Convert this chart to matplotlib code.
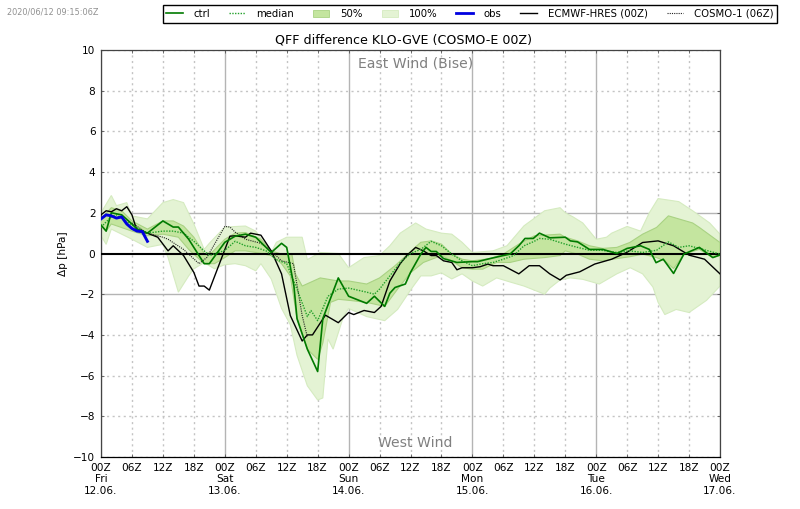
import matplotlib
matplotlib.use("Agg")
import numpy as np
import matplotlib.pyplot as plt
from matplotlib.patches import Patch
from matplotlib.lines import Line2D

# forecast hours and values
ctrl_h = [0, 1, 2, 4, 6, 7, 9, 12, 14, 15, 17, 20, 21, 24, 26, 28, 30, 33, 35, 36, 37.4, 38, 40, 42, 43, 46, 48, 50, 51.5, 53, 55, 56, 57, 59, 60, 62, 63, 64, 65, 66.4, 69, 72, 73, 75.4, 78, 79.3, 81, 82.2, 83.8, 85, 87, 90, 91, 92.4, 94.7, 97.3, 100, 102, 104.6, 106.3, 107.6, 109, 111, 113, 116, 118.6, 120]
ctrl = [1.4, 1.1, 2.0, 1.9, 1.45, 1.2, 1.0, 1.6, 1.3, 1.3, 0.7, -0.5, -0.5, 0.55, 0.85, 0.95, 0.8, 0.05, 0.5, 0.3, -1.6, -3.2, -4.7, -5.8, -3.2, -1.2, -2.1, -2.3, -2.45, -2.1, -2.6, -1.95, -1.67, -1.5, -0.93, -0.03, 0.3, 0.1, 0.1, -0.25, -0.44, -0.4, -0.4, -0.25, -0.1, -0.03, 0.38, 0.74, 0.74, 1.0, 0.77, 0.8, 0.62, 0.57, 0.2, 0.2, 0.0, 0.25, 0.38, 0.2, -0.45, -0.28, -0.98, -0.03, 0.3, -0.2, -0.07]

median_h = [0, 2, 3, 6, 9, 12, 14, 16, 18, 21, 24, 26, 28, 30, 32, 34, 36, 38, 40, 40.7, 42, 44, 46, 48, 51.5, 53, 54, 56, 58, 60, 62, 64, 66, 68, 70, 72, 74, 76, 78, 80, 82, 84, 85, 87, 90, 92.4, 94.7, 97, 100, 102.5, 105, 107.7, 110, 112, 114, 116, 120]
median = [1.3, 1.8, 1.9, 1.4, 1.0, 1.1, 1.1, 1.0, 0.6, -0.1, 0.15, 0.6, 0.38, 0.3, 0.13, -0.3, -0.5, -1.75, -3.1, -2.8, -3.3, -2.1, -1.75, -1.7, -1.9, -2.0, -1.75, -1.1, -0.45, 0.0, 0.2, 0.6, 0.38, -0.03, -0.36, -0.6, -0.5, -0.44, -0.28, -0.1, 0.38, 0.6, 0.74, 0.7, 0.46, 0.3, 0.16, 0.16, 0.05, 0.13, 0.05, 0.16, 0.57, 0.3, 0.38, 0.25, -0.03]

p100_up_h = [0, 2, 3, 5, 6, 9, 12, 14, 16, 18, 20, 21, 24, 28, 30, 33, 34, 36, 39, 40, 42.5, 46, 48, 51, 54, 56, 58, 61, 63, 66, 68, 70, 72, 76, 78.7, 82, 86, 89, 90, 91.5, 93.4, 96, 98, 99, 102, 104.6, 106.3, 108, 112, 114.7, 118, 120]
p100_up = [2.0, 2.85, 2.35, 2.5, 1.85, 1.7, 2.5, 2.65, 2.5, 1.45, 0.2, 0.5, 1.3, 1.35, 1.1, 0.05, 0.55, 0.8, 0.8, -0.3, 0.05, 0.0, -0.7, -0.2, -0.1, 0.38, 1.0, 1.5, 1.2, 1.0, 0.95, 0.55, 0.05, 0.13, 0.38, 1.36, 2.1, 2.25, 2.0, 1.8, 1.5, 0.7, 0.8, 1.0, 1.33, 1.1, 2.0, 2.7, 2.55, 2.1, 1.5, 0.95]
p100_lo_h = [0, 1, 2, 6, 9, 12, 13, 15, 17, 18, 20, 22, 24, 26, 28, 30, 31, 33, 35, 36.7, 38, 40, 42, 43, 44, 45, 47, 48, 51.5, 55, 57.5, 60, 62, 64, 66, 68, 70, 72, 74, 76.7, 79.3, 82, 86, 87, 89, 91, 93.4, 96.6, 100, 102.6, 105, 107, 108, 109.3, 111.5, 114, 117.4, 120]
p100_lo = [0.87, 0.45, 1.2, 0.7, 0.3, 0.45, -0.2, -1.9, -1.1, -0.75, -0.45, -0.75, -0.55, -0.5, -0.6, -0.85, -0.5, -1.25, -2.7, -3.5, -5.0, -6.5, -7.2, -7.1, -4.2, -4.7, -3.1, -2.7, -3.1, -3.3, -2.75, -1.8, -1.1, -1.1, -0.95, -1.25, -1.0, -1.35, -1.6, -1.2, -1.4, -1.6, -2.0, -1.7, -1.3, -1.2, -1.27, -1.5, -1.0, -0.7, -1.0, -1.65, -2.4, -3.0, -2.75, -2.9, -2.3, -1.6]

p50_up_h = [0, 2, 4, 6, 9, 12, 14, 16, 18, 20, 21.5, 24, 26, 28, 31, 33, 35, 37, 37.7, 39, 42.5, 46, 48, 51.5, 54, 57, 60, 62, 64, 66, 68, 70, 72, 75.4, 78, 81, 84, 89, 90, 92.4, 94.7, 97.3, 100, 102.5, 105, 107.7, 110, 112, 114.7, 116, 120]
p50_up = [1.7, 2.25, 2.1, 1.6, 1.2, 1.6, 1.6, 1.35, 0.8, 0.0, 0.05, 0.7, 1.0, 1.03, 0.7, 0.13, -0.03, -0.03, -1.0, -1.6, -1.2, -1.35, -1.35, -1.5, -1.2, -0.6, 0.1, 0.55, 0.62, 0.46, -0.03, -0.28, -0.36, -0.25, -0.03, 0.46, 0.87, 0.95, 0.8, 0.62, 0.38, 0.25, 0.3, 0.54, 0.95, 1.28, 1.85, 1.7, 1.5, 1.28, 0.54]
p50_lo_h = [0, 1, 2, 6, 9, 12, 15, 17, 20, 22, 24, 26, 28, 30, 33, 35, 36.7, 38, 40, 42, 43, 44.5, 46, 48, 51.5, 55, 57.5, 60, 62.5, 66, 68, 70, 72, 74, 76.7, 79.3, 82, 86, 89, 90, 92.4, 94.7, 97.3, 100, 102.5, 105, 107.7, 109.3, 111, 113, 116, 118.6, 120]
p50_lo = [1.35, 1.1, 1.45, 1.1, 0.87, 0.95, 0.8, 0.2, -0.5, -0.5, -0.2, 0.13, 0.13, 0.05, -0.1, -0.5, -1.1, -3.2, -4.7, -5.2, -4.4, -2.4, -2.25, -2.3, -2.4, -2.6, -1.75, -0.95, -0.44, -0.1, -0.36, -0.7, -0.77, -0.77, -0.44, -0.44, -0.28, -0.2, -0.1, 0.13, -0.03, -0.28, -0.36, -0.25, -0.16, -0.03, -0.2, -0.36, -0.74, -0.03, 0.2, -0.2, -0.1]

obs_h = [0, 1, 2, 3, 4, 5, 6, 7, 8, 9]
obs = [1.7, 1.9, 1.85, 1.74, 1.8, 1.45, 1.23, 1.1, 1.08, 0.6]

ecmwf_h = [0, 1, 2, 3, 4, 5, 6, 7, 9, 11, 13, 14, 16, 18, 19, 20, 21, 25, 26, 28, 29, 31, 33, 35, 36.7, 39, 40, 41, 43.5, 46, 48, 49, 51, 53, 54.3, 56, 58, 59.3, 61, 62.5, 64, 65, 66.4, 68, 69, 70, 72, 73.5, 75, 76, 78, 81, 83, 85, 87, 89, 90.2, 92.8, 95.7, 99, 101.9, 105, 108, 111, 114, 117, 120]
ecmwf = [1.9, 2.1, 2.05, 2.2, 2.1, 2.3, 1.9, 1.1, 1.0, 0.8, 0.13, 0.38, -0.1, -0.93, -1.6, -1.6, -1.8, 0.85, 0.87, 0.8, 1.0, 0.9, 0.13, -1.0, -3.05, -4.3, -4.0, -4.0, -3.03, -3.4, -2.9, -3.0, -2.8, -2.9, -2.6, -1.35, -0.5, -0.1, 0.3, 0.13, -0.1, -0.1, -0.36, -0.44, -0.8, -0.7, -0.7, -0.65, -0.52, -0.6, -0.6, -1.0, -0.6, -0.6, -1.0, -1.3, -1.07, -0.9, -0.52, -0.28, 0.05, 0.54, 0.62, 0.38, -0.08, -0.28, -1.0]

cosmo1_h = [6, 9, 12, 13, 16, 19, 20.5, 24, 25, 26, 28, 31, 33, 35, 37.3, 39, 40]
cosmo1 = [1.5, 1.0, 0.8, 0.7, 0.2, -0.5, -0.2, 1.33, 1.3, 1.05, 0.7, 0.5, 0.13, -0.36, -0.5, -3.05, -4.1]

tick_hours = np.arange(0, 121, 6)
day_labels = {0: ("Fri", "12.06."), 24: ("Sat", "13.06."), 48: ("Sun", "14.06."),
              72: ("Mon", "15.06."), 96: ("Tue", "16.06."), 120: ("Wed", "17.06.")}
tick_labels = []
for h in tick_hours:
    lab = "%02dZ" % (h % 24)
    if h in day_labels:
        lab = lab + "\n" + day_labels[h][0] + "\n" + day_labels[h][1]
    tick_labels.append(lab)

dark_green = "#007a00"
median_green = "#22a02a"
light_band = "#e4f3d4"
mid_band = "#c4e59f"
solid_grid = "#b4b4b4"
dot_grid = "#c4c4c4"

fig = plt.figure(figsize=(8, 5.09), dpi=100)
ax = fig.add_axes([101 / 800, 1 - 457 / 509, 619 / 800, 407 / 509])

# grid
for h in tick_hours:
    if h % 24 == 0:
        ax.axvline(h, color=solid_grid, lw=1, zorder=1)
    else:
        ax.axvline(h, color=dot_grid, lw=1, ls=(0, (1.5, 2.5)), zorder=1)
for v in np.arange(-10, 11, 2):
    if v in (-2, 2):
        ax.axhline(v, color=solid_grid, lw=1, zorder=1)
    elif v != 0:
        ax.axhline(v, color=dot_grid, lw=1, ls=(0, (1.5, 2.5)), zorder=1)

# ensemble bands
ax.fill(p100_up_h + p100_lo_h[::-1], p100_up + p100_lo[::-1], fc=light_band, ec="#d5ebc0", lw=0.8, zorder=2)
ax.fill(p50_up_h + p50_lo_h[::-1], p50_up + p50_lo[::-1], fc=mid_band, ec="#a9d283", lw=0.8, zorder=3)

ax.axhline(0, color="black", lw=1.5, zorder=4)

ax.plot(ecmwf_h, ecmwf, color="black", lw=1, zorder=5)
ax.plot(cosmo1_h, cosmo1, color="#222222", lw=0.8, ls=(0, (1, 1)), zorder=5)
ax.plot(median_h, median, color=median_green, lw=1, ls=(0, (1, 1)), zorder=6)
ax.plot(ctrl_h, ctrl, color=dark_green, lw=1.2, zorder=6)
ax.plot(obs_h, obs, color="#0000e0", lw=2.1, zorder=7)

ax.set_xlim(0, 120)
ax.set_ylim(-10, 10)
ax.set_xticks(tick_hours)
ax.set_xticklabels(tick_labels, fontsize=7.6, linespacing=1.2)
ax.set_yticks(np.arange(-10, 11, 2))
ax.tick_params(axis="both", direction="in", length=2, width=0.6, color="#555555",
               top=True, right=True, pad=4, labelsize=7.6)
for s in ax.spines.values():
    s.set_color("#444444")
    s.set_linewidth(0.9)
ax.spines["bottom"].set_color("black")
ax.set_ylabel("Δp [hPa]", fontsize=7.6, labelpad=4)
ax.set_title("QFF difference KLO-GVE (COSMO-E 00Z)", fontsize=9.1, pad=5, x=0.489)

ax.text(61, 9.33, "East Wind (Bise)", color="#808080", fontsize=10.1, ha="center", va="center")
ax.text(61, -9.3, "West Wind", color="#808080", fontsize=10.1, ha="center", va="center")

fig.text(7 / 800, 1 - 12 / 509, "2020/06/12 09:15:06Z", color="#909090", fontsize=5.9, va="center")

handles = [
    Line2D([], [], color=dark_green, lw=1.2),
    Line2D([], [], color=median_green, lw=1, ls=(0, (1, 1))),
    Patch(fc=mid_band, ec="#a9d283", lw=0.6),
    Patch(fc=light_band, ec="#d5ebc0", lw=0.6),
    Line2D([], [], color="#0000e0", lw=2),
    Line2D([], [], color="black", lw=1),
    Line2D([], [], color="#222222", lw=0.8, ls=(0, (1, 1))),
]
names = ["ctrl", "median", "50%", "100%", "obs", "ECMWF-HRES (00Z)", "COSMO-1 (06Z)"]
leg = fig.legend(handles, names, ncol=7, loc="center", bbox_to_anchor=(470 / 800, 1 - 14 / 509),
                 fontsize=7.3, frameon=True, fancybox=False, edgecolor="black", framealpha=1,
                 handlelength=1.6, columnspacing=1.85, handletextpad=1.1, borderpad=0.35, borderaxespad=0)
leg.get_frame().set_linewidth(1)

fig.savefig("out.png", dpi=100)
